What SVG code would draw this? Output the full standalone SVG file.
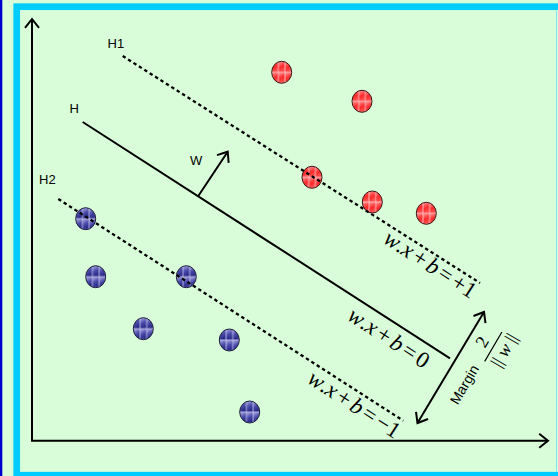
<svg xmlns="http://www.w3.org/2000/svg" width="558" height="476" viewBox="0 0 558 476">
  <style>
    .lbl { font-family: "Liberation Sans", Arial, sans-serif; font-size: 13px; fill: #000; }
    .math { font-family: "Liberation Serif", "Times New Roman", serif; font-size: 23px; fill: #000; }
    .it { font-style: italic; }
    .solid { stroke: #000; stroke-width: 2; fill: none; }
    .dash { stroke: #000; stroke-width: 2.3; fill: none; stroke-dasharray: 3.4 3; }
    .arr { stroke: #000; stroke-width: 2; fill: none; }
    .red { fill: url(#redGrid); stroke: #3a1010; stroke-width: 1; }
    .blue { fill: url(#blueGrid); stroke: #1a1a3a; stroke-width: 1; }
  </style>
  <defs>
    <marker id="head" markerUnits="userSpaceOnUse" markerWidth="20" markerHeight="20" refX="0" refY="0" viewBox="-12 -10 14 20" orient="auto-start-reverse" overflow="visible">
      <path d="M-8.8,-7 L0,0 L-8.8,7" fill="none" stroke="#000" stroke-width="2"/>
    </marker>
    <linearGradient id="redCell" x1="0" y1="0" x2="0.3" y2="1">
      <stop offset="0" stop-color="#ff9090"/>
      <stop offset="0.6" stop-color="#ff2828"/>
      <stop offset="1" stop-color="#ff5050"/>
    </linearGradient>
    <linearGradient id="blueCell" x1="0" y1="0" x2="0.3" y2="1">
      <stop offset="0" stop-color="#a8a8e0"/>
      <stop offset="0.55" stop-color="#4a4aaa"/>
      <stop offset="1" stop-color="#2a2a88"/>
    </linearGradient>
    <pattern id="redGrid" patternUnits="objectBoundingBox" patternContentUnits="objectBoundingBox" width="0.3333" height="0.5">
      <rect x="0" y="0" width="0.3333" height="0.5" fill="#ffc0c0"/>
      <rect x="0.022" y="0.022" width="0.289" height="0.456" fill="url(#redCell)"/>
    </pattern>
    <pattern id="blueGrid" patternUnits="objectBoundingBox" patternContentUnits="objectBoundingBox" width="0.3333" height="0.5">
      <rect x="0" y="0" width="0.3333" height="0.5" fill="#b8b8e6"/>
      <rect x="0.022" y="0.022" width="0.289" height="0.456" fill="url(#blueCell)"/>
    </pattern>
  </defs>

  <!-- background and frame -->
  <rect x="0" y="0" width="558" height="476" fill="#d9fdd9"/>
  <rect x="0" y="0" width="2.3" height="476" fill="#0000cc"/>
  <rect x="16.7" y="6.7" width="560" height="468.5" fill="none" stroke="#00ccff" stroke-width="6.7"/>
  <line x1="556.5" y1="10" x2="556.5" y2="472" stroke="#80e6ee" stroke-width="1"/>

  <!-- data points -->
  <g id="class-positive">
    <ellipse cx="281.7" cy="72.3" rx="10" ry="11" class="red"/>
    <ellipse cx="362" cy="101.3" rx="10" ry="11" class="red"/>
    <ellipse cx="312" cy="177.3" rx="10" ry="11" class="red"/>
    <ellipse cx="372.3" cy="202" rx="10" ry="11" class="red"/>
    <ellipse cx="426.3" cy="213.3" rx="10" ry="11" class="red"/>
  </g>
  <g id="class-negative">
    <ellipse cx="85.7" cy="218.7" rx="10" ry="11" class="blue"/>
    <ellipse cx="95.7" cy="276.7" rx="10" ry="11" class="blue"/>
    <ellipse cx="186.3" cy="276.7" rx="10" ry="11" class="blue"/>
    <ellipse cx="143.3" cy="328.7" rx="10" ry="11" class="blue"/>
    <ellipse cx="229.3" cy="340" rx="10" ry="11" class="blue"/>
    <ellipse cx="249.7" cy="412" rx="10" ry="11" class="blue"/>
  </g>

  <!-- axes, hyperplanes and arrows -->
  <g id="connectors">
    <path d="M32,19 L32,440.7 L548,440.7" class="arr" marker-start="url(#head)" marker-end="url(#head)"/>
    <line x1="122.7" y1="56" x2="480" y2="283" class="dash"/>
    <line x1="82.7" y1="122" x2="450" y2="358.3" class="solid"/>
    <line x1="58.3" y1="199" x2="403.3" y2="420.7" class="dash"/>
    <line x1="198.3" y1="196" x2="227.7" y2="151.7" class="arr" marker-end="url(#head)"/>
    <line x1="417.5" y1="423" x2="484" y2="312" class="arr" marker-start="url(#head)" marker-end="url(#head)"/>
  </g>

  <!-- labels -->
  <g id="labels">
    <text class="lbl" x="107.5" y="48">H1</text>
    <text class="lbl" x="69.5" y="113">H</text>
    <text class="lbl" x="190" y="165">W</text>
    <text class="lbl" x="39" y="184">H2</text>
    <text class="math" transform="translate(382,242) rotate(33)"><tspan class="it">w</tspan>.<tspan class="it">x</tspan><tspan dx="3">+</tspan><tspan class="it" dx="3">b</tspan><tspan dx="3">=</tspan><tspan dx="3">+1</tspan></text>
    <text class="math" transform="translate(346,319) rotate(33)"><tspan class="it">w</tspan>.<tspan class="it">x</tspan><tspan dx="3">+</tspan><tspan class="it" dx="3">b</tspan><tspan dx="3">=</tspan><tspan dx="3">0</tspan></text>
    <text class="math" transform="translate(306,382) rotate(33)"><tspan class="it">w</tspan>.<tspan class="it">x</tspan><tspan dx="3">+</tspan><tspan class="it" dx="3">b</tspan><tspan dx="3">=</tspan><tspan dx="3">−1</tspan></text>
    <text class="lbl" style="font-size:14px" transform="translate(468.5,387) rotate(-59.6)" text-anchor="middle">Margin</text>
    <g transform="translate(493.3,346.7) rotate(-59.6)">
      <text class="math" style="font-size:18px" x="-1.5" y="-6" text-anchor="middle">2</text>
      <line x1="-17" y1="0" x2="17" y2="0" stroke="#000" stroke-width="1.2"/>
      <text class="math" style="font-size:18px" x="2.5" y="17" text-anchor="middle">|| <tspan class="it">w</tspan> ||</text>
    </g>
  </g>
</svg>
